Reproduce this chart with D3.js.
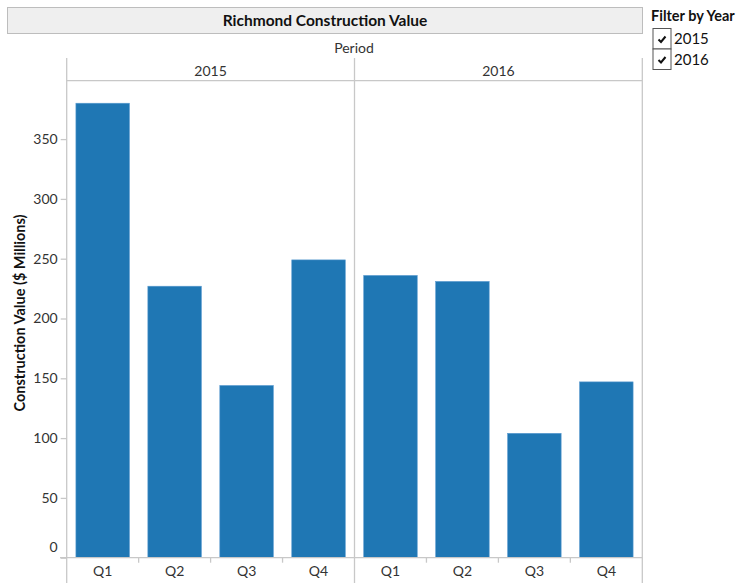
<!DOCTYPE html>
<html>
<head>
<meta charset="utf-8">
<script src="https://cdn.jsdelivr.net/npm/d3@7"></script>
<style>
  html, body { margin: 0; padding: 0; background: #fff; }
  svg { display: block; font-family: Lato, "Open Sans", sans-serif; }
</style>
</head>
<body>
<svg id="chart" width="737" height="583"></svg>
<script>
// Quarterly construction value ($ millions) by year
const years = ["2015", "2016"];
const quarters = ["Q1", "Q2", "Q3", "Q4"];
const values2015 = [380, 227, 144, 249];
const values2016 = [236, 231, 104, 147];
const yTicks = [0, 50, 100, 150, 200, 250, 300, 350];

const data = years.flatMap((yr, i) =>
  quarters.map((q, j) => ({ year: yr, quarter: q, value: [values2015, values2016][i][j] }))
);

const svg = d3.select("#chart");
const gridColor = "#c8c8c8";
const barColor = "#1f77b4";
const fontFam = "Lato, 'Open Sans', sans-serif";

const left = 66.7, right = 642.3;
const headerTop = 58, headerLine = 80.7, baseY = 557.7;

const xYear = d3.scaleBand().domain(years).range([left, right]);
const xQuarter = d3.scaleBand().domain(quarters)
  .range([0, xYear.bandwidth()]).paddingInner(0.256).paddingOuter(0.128);
const y = d3.scaleLinear().domain([0, 350]).range([baseY, 139.1]);

// Title bar
svg.append("rect").attr("x", 7.5).attr("y", 7.5).attr("width", 635).attr("height", 26)
  .attr("fill", "#efefef").attr("stroke", "#bdbdbd");
svg.append("text").attr("x", 325).attr("y", 25.5).attr("text-anchor", "middle")
  .attr("font-size", 15.5).attr("font-weight", "bold").attr("fill", "#111")
  .text("Richmond Construction Value");

// Column header
svg.append("text").attr("x", 354).attr("y", 52.5).attr("text-anchor", "middle")
  .attr("font-size", 14).attr("fill", "#333").text("Period");

svg.selectAll("text.year").data(years).join("text").attr("class", "year")
  .attr("x", d => xYear(d) + xYear.bandwidth() / 2).attr("y", 75.5)
  .attr("text-anchor", "middle").attr("font-size", 14).attr("fill", "#333")
  .text(d => d);

// Pane separators
const sepX = years.map(d => xYear(d)).concat([right]);
svg.selectAll("line.sep").data(sepX).join("line").attr("class", "sep")
  .attr("x1", d => d).attr("x2", d => d).attr("y1", headerTop).attr("y2", 583)
  .attr("stroke", gridColor).attr("stroke-width", 1.3);
svg.append("line").attr("x1", left).attr("x2", right).attr("y1", headerLine).attr("y2", headerLine)
  .attr("stroke", gridColor).attr("stroke-width", 1.3);

// Bars
svg.append("g").selectAll("rect").data(data).join("rect")
  .attr("x", d => xYear(d.year) + xQuarter(d.quarter))
  .attr("width", xQuarter.bandwidth())
  .attr("y", d => y(d.value))
  .attr("height", d => y(0) - y(d.value))
  .attr("fill", barColor)
  .attr("stroke", "#5b9bd0").attr("stroke-width", 0.6);

// Baseline
svg.append("line").attr("x1", 60).attr("x2", right).attr("y1", baseY).attr("y2", baseY)
  .attr("stroke", gridColor).attr("stroke-width", 1.3);

// Y axis
const yAxis = svg.append("g").attr("transform", `translate(${left},0)`)
  .call(d3.axisLeft(y).tickValues(yTicks).tickSize(6).tickPadding(3));
yAxis.select(".domain").remove();
yAxis.selectAll(".tick line").attr("stroke", gridColor).attr("stroke-width", 1.3);
yAxis.selectAll(".tick text").attr("font-size", 14).attr("fill", "#333")
  .attr("font-family", fontFam)
  .attr("dy", d => d === 0 ? "-0.45em" : "0.32em");

svg.append("text")
  .attr("transform", "translate(25,313) rotate(-90)")
  .attr("text-anchor", "middle").attr("font-size", 14.5).attr("font-weight", "bold").attr("fill", "#111")
  .text("Construction Value ($ Millions)");

// X axis: quarter labels and divider ticks per pane
years.forEach(yr => {
  const g = svg.append("g").attr("transform", `translate(${xYear(yr)},${baseY})`);
  g.call(d3.axisBottom(xQuarter).tickSize(0).tickPadding(8));
  g.select(".domain").remove();
  g.selectAll(".tick text").attr("font-size", 14).attr("fill", "#333")
    .attr("font-family", fontFam);
  const step = xQuarter.step();
  g.selectAll("line.div").data(quarters.slice(1)).join("line").attr("class", "div")
    .attr("x1", d => xQuarter(d) - step * 0.128).attr("x2", d => xQuarter(d) - step * 0.128)
    .attr("y1", 0).attr("y2", 5).attr("stroke", gridColor).attr("stroke-width", 1.3);
});

// Year filter
svg.append("text").attr("x", 651).attr("y", 21).attr("font-size", 14.5).attr("font-weight", "bold")
  .attr("fill", "#111").text("Filter by Year");
const filt = svg.append("g").selectAll("g").data(years).join("g")
  .attr("transform", (d, i) => `translate(653,${28.5 + i * 20.5})`);
filt.append("rect").attr("width", 18).attr("height", 20.5)
  .attr("fill", "#fff").attr("stroke", "#555").attr("stroke-width", 1);
filt.append("path").attr("d", "M5.5,11 L8,13.5 L12.5,8").attr("fill", "none")
  .attr("stroke", "#111").attr("stroke-width", 2);
filt.append("text").attr("x", 21).attr("y", 15.5).attr("font-size", 15).attr("fill", "#111")
  .text(d => d);
</script>
</body>
</html>
